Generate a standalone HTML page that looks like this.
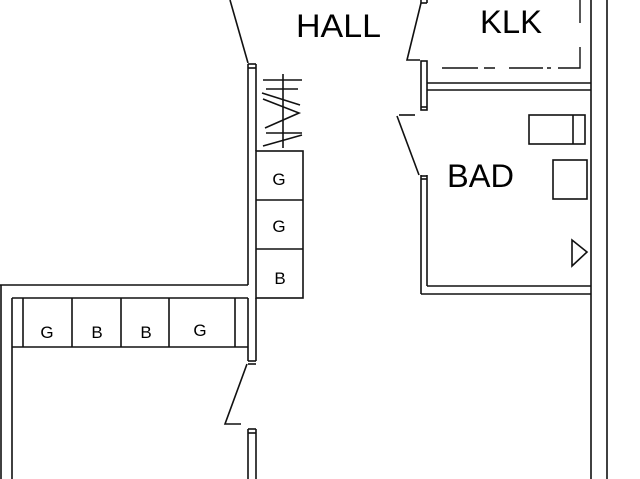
<!DOCTYPE html>
<html><head><style>
html,body{margin:0;padding:0;background:#fff;}
svg{display:block;}
text{font-family:"Liberation Sans",sans-serif;fill:#000;}
</style></head><body>
<svg width="640" height="479" viewBox="0 0 640 479" xmlns="http://www.w3.org/2000/svg">
<g stroke="#111" stroke-width="1.6" fill="none">
<line x1="248" y1="64" x2="248" y2="285"/>
<line x1="256" y1="64" x2="256" y2="151"/>
<line x1="248" y1="64" x2="256" y2="64"/>
<line x1="248" y1="68" x2="256" y2="68"/>
<line x1="248" y1="298" x2="248" y2="361"/>
<line x1="256" y1="298" x2="256" y2="361"/>
<line x1="248" y1="361" x2="256" y2="361"/>
<line x1="248" y1="364" x2="256" y2="364"/>
<polyline points="247,364 225,424 241,424"/>
<line x1="248" y1="429" x2="248" y2="479"/>
<line x1="256" y1="429" x2="256" y2="479"/>
<line x1="248" y1="429" x2="256" y2="429"/>
<line x1="248" y1="433" x2="256" y2="433"/>
<line x1="230" y1="0" x2="248" y2="63"/>
<line x1="283" y1="74" x2="283" y2="148"/>
<line x1="263" y1="80" x2="302" y2="80"/>
<line x1="266" y1="89" x2="298" y2="89"/>
<line x1="262" y1="93" x2="300" y2="105"/>
<polyline points="263,99 299,113 265,128"/>
<line x1="266" y1="133" x2="302" y2="133"/>
<line x1="263" y1="146" x2="302" y2="135"/>
<rect x="256" y="151" width="47" height="147"/>
<line x1="256" y1="200" x2="303" y2="200"/>
<line x1="256" y1="249" x2="303" y2="249"/>
<line x1="0" y1="285" x2="248" y2="285"/>
<line x1="1" y1="285" x2="1" y2="479"/>
<line x1="12" y1="298" x2="12" y2="479"/>
<line x1="12" y1="298" x2="248" y2="298"/>
<line x1="12" y1="347" x2="248" y2="347"/>
<line x1="23" y1="298" x2="23" y2="347"/>
<line x1="72" y1="298" x2="72" y2="347"/>
<line x1="121" y1="298" x2="121" y2="347"/>
<line x1="169" y1="298" x2="169" y2="347"/>
<line x1="235" y1="298" x2="235" y2="347"/>
<line x1="421" y1="0" x2="421" y2="3"/>
<line x1="427" y1="0" x2="427" y2="3"/>
<line x1="421" y1="3" x2="427" y2="3"/>
<polyline points="421,3 407,60 420,60"/>
<rect x="421" y="61" width="6" height="49"/>
<line x1="421" y1="107" x2="427" y2="107"/>
<line x1="427" y1="83" x2="591" y2="83"/>
<line x1="427" y1="90" x2="591" y2="90"/>
<line x1="591" y1="0" x2="591" y2="479"/>
<line x1="607" y1="0" x2="607" y2="479"/>
<path d="M442,68 H478 M484,68 H495 M509,68 H543 M547,68 H551 M558,68 H580 V47 M580,23 V0" stroke-width="1.4"/>
<line x1="399" y1="115" x2="415" y2="115"/>
<line x1="397" y1="116" x2="419" y2="175"/>
<line x1="421" y1="175" x2="421" y2="294"/>
<line x1="427" y1="175" x2="427" y2="286"/>
<line x1="421" y1="176" x2="427" y2="176"/>
<line x1="421" y1="179" x2="427" y2="179"/>
<line x1="427" y1="286" x2="591" y2="286"/>
<line x1="421" y1="294" x2="591" y2="294"/>
<rect x="529" y="115" width="56" height="29"/>
<line x1="573" y1="115" x2="573" y2="144"/>
<rect x="553" y="160" width="34" height="39"/>
<polygon points="572,240 587,252 572,266"/>
</g>
<text x="296" y="37" font-size="32" textLength="85" lengthAdjust="spacingAndGlyphs">HALL</text>
<text x="480" y="33" font-size="32" textLength="62" lengthAdjust="spacingAndGlyphs">KLK</text>
<text x="447" y="187" font-size="32" textLength="67" lengthAdjust="spacingAndGlyphs">BAD</text>
<g font-size="17" text-anchor="middle">
<text x="279" y="185">G</text>
<text x="279" y="232">G</text>
<text x="280" y="284">B</text>
<text x="47" y="338">G</text>
<text x="97" y="338">B</text>
<text x="146" y="338">B</text>
<text x="200" y="336">G</text>
</g>
</svg>
</body></html>
